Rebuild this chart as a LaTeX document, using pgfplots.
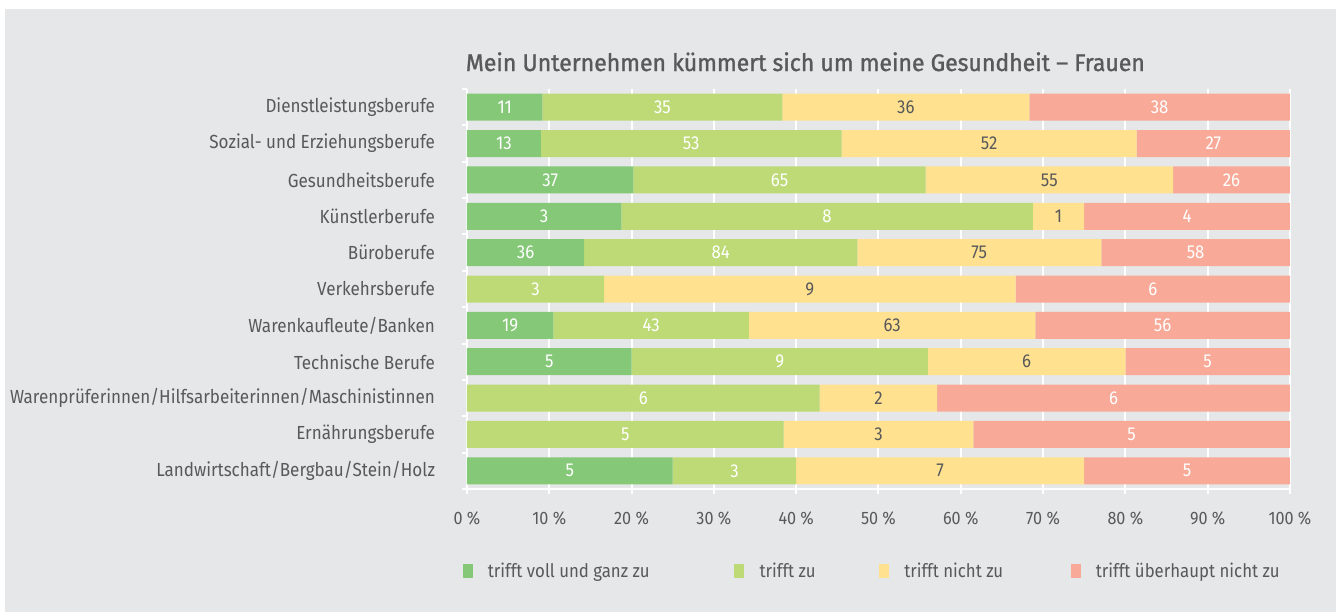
\documentclass[border=0pt]{standalone}
\usepackage{pgfplots}
\pgfplotsset{compat=1.18}
\usepackage{pgfplotstable}
\usepackage{fontspec}
\setmainfont{Fira Sans}[FakeStretch=0.9]
\newfontfamily\titlefont{Fira Sans}[FakeStretch=0.96, FakeBold=1.2]
\definecolor{bg}{HTML}{E6E7E8}
\definecolor{txt}{HTML}{58595B}
\definecolor{cA}{HTML}{85C878}
\definecolor{cB}{HTML}{BDDA76}
\definecolor{cC}{HTML}{FFE18F}
\definecolor{cD}{HTML}{F8A997}
\pgfplotstableread[col sep=comma]{
y,p1,p2,p3,p4,n1,n2,n3,n4
0,9.167,29.167,30.000,31.665,11,35,36,38
1,8.966,36.552,35.862,18.619,13,53,52,27
2,20.219,35.519,30.055,14.206,37,65,55,26
3,18.75,50,6.25,24.998,3,8,1,4
4,14.229,33.202,29.644,22.923,36,84,75,58
5,0,16.667,50,33.331,,3,9,6
6,10.497,23.757,34.807,30.937,19,43,63,56
7,20,36,24,19.998,5,9,6,5
8,0,42.857,14.286,42.855,,6,2,6
9,0,38.462,23.077,38.459,,5,3,5
10,25,15,35,24.998,5,3,7,5
}\data
\pgfplotsset{seg/.style 2 args={fill=#1, draw=none, nodes near coords,
  point meta=explicit symbolic,
  every node near coord/.append style={anchor=center, text=#2,
    font=\fontsize{14}{16}\selectfont}}}
\begin{document}
\begin{tikzpicture}
\fill[white] (0,0) rectangle (1002pt,459pt);
\fill[bg] (3.75pt,0) rectangle (1002pt,452.25pt);
\useasboundingbox (0,0) rectangle (1002pt,459pt);
\begin{axis}[
  at={(350.25pt,92.25pt)}, anchor=south west,
  scale only axis, width=617.25pt, height=300pt,
  xbar stacked, bar width=20.25pt,
  xmin=0, xmax=100.01, ymin=-0.5, ymax=10.5, y dir=reverse,
  axis x line*=bottom, axis y line*=left,
  x axis line style={-}, y axis line style={-},
  axis line style={white, line width=1.5pt},
  xmajorgrids, grid style={white, line width=1.5pt},
  xtick={0,10,...,100},
  xticklabels={0 \%,10 \%,20 \%,30 \%,40 \%,50 \%,60 \%,70 \%,80 \%,90 \%,100 \%},
  ytick={0,...,10},
  yticklabels={Dienstleistungsberufe,Sozial- und Erziehungsberufe,Gesundheitsberufe,Künstlerberufe,Büroberufe,Verkehrsberufe,Warenkaufleute/Banken,Technische Berufe,Warenprüferinnen/Hilfsarbeiterinnen/Maschinistinnen,Ernährungsberufe,Landwirtschaft/Bergbau/Stein/Holz},
  minor ytick={-0.5,0.5,...,10.5},
  tick align=outside,
  major tick length=4pt, minor tick length=4pt,
  x tick style={white, line width=1.5pt},
  major y tick style={draw=none},
  minor y tick style={white, line width=1.5pt},
  yticklabel style={xshift=-16.5pt, font=\fontsize{14.2}{16}\selectfont, text=txt},
  xticklabel style={yshift=-9.5pt, font=\fontsize{13.5}{15}\selectfont, text=txt},
  title={Mein Unternehmen kümmert sich um meine Gesundheit – Frauen},
  title style={at={(0,1)}, anchor=base west, yshift=7.5pt, xshift=-1pt,
    font=\titlefont\fontsize{18}{21}\selectfont, text=txt, inner sep=0pt},
  legend style={at={(0,-0.205)}, anchor=west, xshift=-6.5pt, draw=none, fill=none,
    legend columns=4, font=\fontsize{14}{16}\selectfont, text=txt,
    /tikz/every odd column/.append style={column sep=9.5pt}},
  legend image code/.code={\fill[#1] (0pt,-5.5pt) rectangle (7.5pt,5.5pt);},
]
\addplot[seg={cA}{white}] table[x=p1, y=y, meta=n1] {\data};
\addplot[seg={cB}{white}] table[x=p2, y=y, meta=n2] {\data};
\addplot[seg={cC}{txt}] table[x=p3, y=y, meta=n3] {\data};
\addplot[seg={cD}{white}] table[x=p4, y=y, meta=n4] {\data};
\addlegendentry{\makebox[182.75pt][l]{trifft voll und ganz zu}}
\addlegendentry{\makebox[87.5pt][l]{trifft zu}}
\addlegendentry{\makebox[122.75pt][l]{trifft nicht zu}}
\addlegendentry{trifft überhaupt nicht zu}
\end{axis}
\end{tikzpicture}
\end{document}
